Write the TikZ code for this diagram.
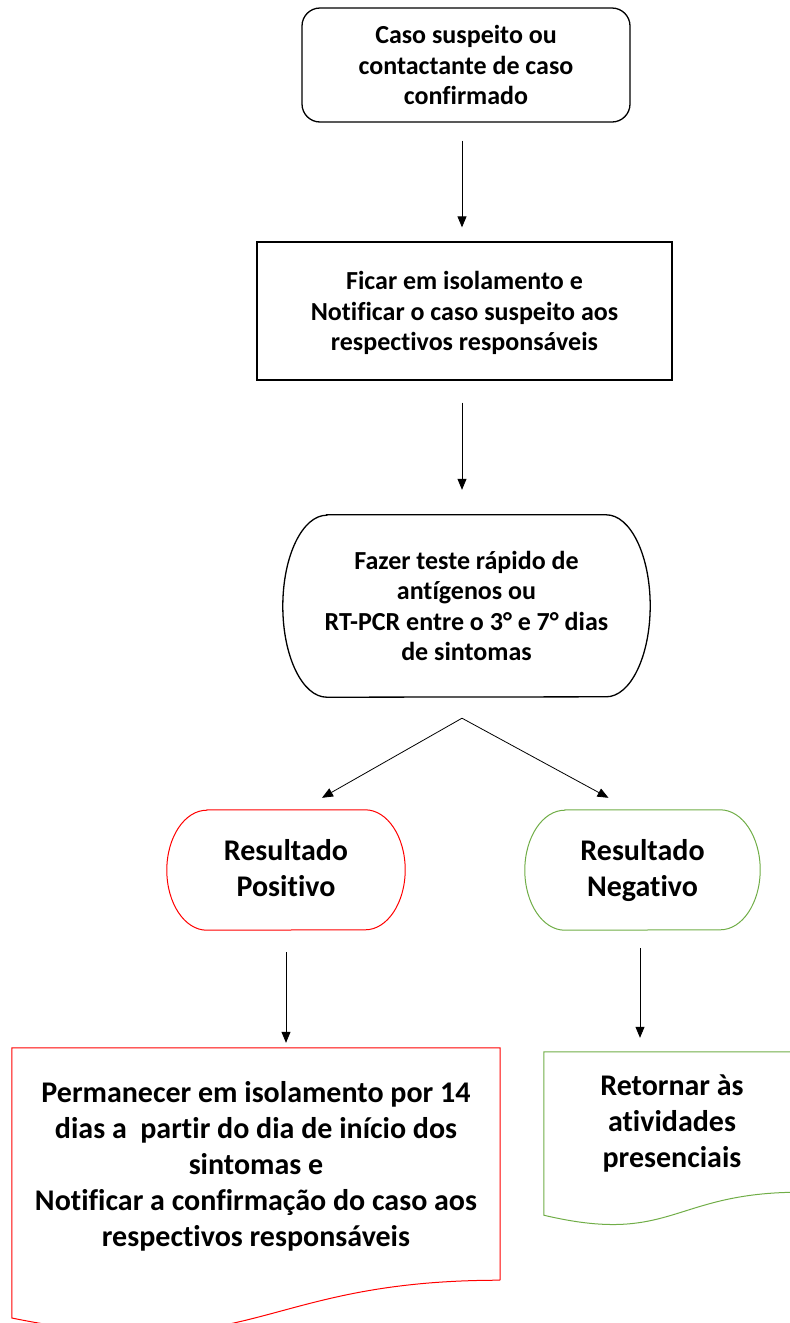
\documentclass[tikz,border=0pt]{standalone}
\usepackage{fontspec}
\setmainfont{Carlito}[Ligatures={NoCommon}]
\usetikzlibrary{arrows.meta,calc}
\definecolor{docred}{RGB}{255,0,0}
\definecolor{docgreen}{RGB}{112,173,71}
\newcommand\mytopstrut{\rule{0pt}{\dimexpr0.7\baselineskip+3pt\relax}}
\newcommand\mybotstrut{\rule[\dimexpr-0.3\baselineskip+3pt\relax]{0pt}{\dimexpr0.3\baselineskip-3pt\relax}}
\tikzset{
  txt/.style={align=center, font=\bfseries\fontsize{26}{30.5}\selectfont, inner sep=0pt},
  bigtxt/.style={align=center, font=\bfseries\fontsize{30}{36}\selectfont, inner sep=0pt},
  blackline/.style={draw=black, line width=1.3pt},
  redline/.style={draw=docred, line width=1pt},
  greenline/.style={draw=docgreen, line width=1pt},
  arr/.style={draw=black, line width=0.8pt, -{Triangle[length=11pt,width=9pt]}},
}
\begin{document}
\begin{tikzpicture}[x=1pt,y=-1pt]
\useasboundingbox (0,0) rectangle (790,1323);
\clip (0,0) rectangle (790,1323);
% box 1
\node[txt, blackline, rounded corners=18pt, minimum width=328pt, minimum height=114pt] (b1) at (466,65)
  {\mytopstrut Caso suspeito ou\\contactante de caso\\confirmado\mybotstrut};
% box 2
\node[txt, blackline, minimum width=415pt, minimum height=138pt] (b2) at (464.5,311)
  {\mytopstrut Ficar em isolamento e\\Notificar o caso suspeito aos\\respectivos responsáveis\mybotstrut};
% box 3 (terminator)
\node[txt, minimum width=367pt, minimum height=182pt] (b3) at (466.5,606)
  {\mytopstrut Fazer teste rápido de\\antígenos ou\\RT-PCR entre o 3° e 7° dias\\de sintomas\mybotstrut};
\draw[blackline] ([xshift=44pt]b3.north west) -- ([xshift=-44pt]b3.north east)
  arc[start angle=90,end angle=-90,x radius=44pt,y radius=91pt]
  -- ([xshift=44pt]b3.south west)
  arc[start angle=270,end angle=90,x radius=44pt,y radius=91pt] -- cycle;
% result positive
\node[bigtxt, minimum width=238pt, minimum height=120pt] (pos) at (286,868)
  {\mytopstrut Resultado\\Positivo\mybotstrut};
\draw[redline] ([xshift=40pt,yshift=-2pt]pos.north west) -- ([xshift=-40pt,yshift=-2pt]pos.north east)
  arc[start angle=90,end angle=-90,x radius=40pt,y radius=60pt]
  -- ([xshift=40pt,yshift=-2pt]pos.south west)
  arc[start angle=270,end angle=90,x radius=40pt,y radius=60pt] -- cycle;
% result negative
\node[bigtxt, minimum width=235pt, minimum height=120pt] (neg) at (642.5,868)
  {\mytopstrut Resultado\\Negativo\mybotstrut};
\draw[greenline] ([xshift=40pt,yshift=-2pt]neg.north west) -- ([xshift=-40pt,yshift=-2pt]neg.north east)
  arc[start angle=90,end angle=-90,x radius=40pt,y radius=60pt]
  -- ([xshift=40pt,yshift=-2pt]neg.south west)
  arc[start angle=270,end angle=90,x radius=40pt,y radius=60pt] -- cycle;
% red document
\node[bigtxt, minimum width=488pt, minimum height=229pt] (rdoc) at (256,1164)
  {\mytopstrut Permanecer em isolamento por 14\\dias a\ \ partir do dia de início dos\\sintomas e\\Notificar a confirmação do caso aos\\respectivos responsáveis\mybotstrut};
\draw[redline] ([yshift=-1.5pt]rdoc.south east) -- ([yshift=1.5pt]rdoc.north east) -- ([yshift=1.5pt]rdoc.north west)
  -- ([yshift=-39.3pt]rdoc.south west)
  .. controls ([yshift=-88.8pt]rdoc.south) and ([yshift=-1.5pt]rdoc.south) .. ([yshift=-1.5pt]rdoc.south east);
% green document
\node[bigtxt, minimum width=256pt, minimum height=140pt] (gdoc) at (672,1121)
  {\mytopstrut Retornar às\\atividades\\presenciais\mybotstrut};
\draw[greenline] ([yshift=-1pt]gdoc.south east) -- ([yshift=-1pt]gdoc.north east) -- ([yshift=-1pt]gdoc.north west)
  -- ([yshift=-24pt]gdoc.south west)
  .. controls ([yshift=-54.3pt]gdoc.south) and ([yshift=-1pt]gdoc.south) .. ([yshift=-1pt]gdoc.south east);
% connectors
\coordinate (s1) at ($(b1.south)+(-4,18)$);
\coordinate (s2) at ($(b2.south)+(-2.5,22)$);
\coordinate (split) at ($(b3.south)+(-4.5,21)$);
\coordinate (s4) at ($(pos.south)+(0,24)$);
\coordinate (s5) at ($(neg.south)+(-2.5,20)$);
\draw[arr] (s1) -- ($(s1 |- b2.north)+(0,-14)$);
\draw[arr] (s2) -- ($(s2 |- b3.north)+(0,-25)$);
\draw[arr] (split) -- ($(pos.north)+(36,-10)$);
\draw[arr] (split) -- ($(neg.north)+(-34,-10)$);
\draw[arr] (s4) -- ($(s4 |- rdoc.north)+(0,-6.5)$);
\draw[arr] (s5) -- ($(s5 |- gdoc.north)+(0,-13)$);
\end{tikzpicture}
\end{document}
